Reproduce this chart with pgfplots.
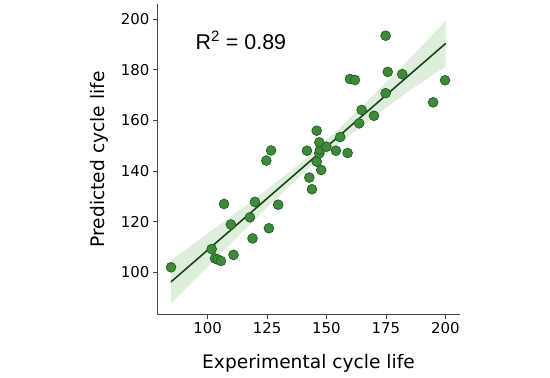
\documentclass[border=0pt]{standalone}
\usepackage{pgfplots}
\pgfplotsset{compat=1.18}
\usepackage{fontspec}
\setmainfont{DejaVu Sans}
\newfontfamily\rfont{Liberation Sans}
\usepgfplotslibrary{fillbetween}
\definecolor{ptfill}{HTML}{3E8A3A}
\definecolor{ptedge}{HTML}{245E22}
\definecolor{regline}{HTML}{17451A}
\definecolor{band}{HTML}{D9EAD6}
\definecolor{axgray}{HTML}{444444}
\begin{document}
\begin{tikzpicture}
\begin{axis}[
  scale only axis,
  width=303bp, height=310.7bp,
  at={(0,0)}, anchor=south west,
  xmin=78.7, xmax=206.2, ymin=83.3, ymax=205.9,
  axis x line*=bottom, axis y line*=left,
  x axis line style={-, axgray, line width=0.8pt},
  y axis line style={-, axgray, line width=0.8pt},
  xtick={100,125,150,175,200},
  ytick={100,120,140,160,180,200},
  tick align=outside,
  major tick length=4bp,
  tick style={axgray, line width=0.6pt},
  /pgf/number format/assume math mode=true,
  ticklabel style={font=\fontsize{15}{18}\selectfont},
  xlabel={Experimental cycle life},
  ylabel={Predicted cycle life},
  label style={font=\fontsize{18.7}{22}\selectfont},
  xlabel style={yshift=-14bp},
  ylabel style={yshift=6bp},
  clip=false,
]
\addplot[name path=upper, draw=none, forget plot] coordinates {
(84.6,104.75) (95,111.87) (105,118.74) (115,125.67) (125,132.72) (135,140.05)
(143.5,146.71) (155,156.53) (165,165.59) (175,174.86) (185,184.23) (200.2,199.46)};
\addplot[name path=lower, draw=none, forget plot] coordinates {
(84.6,87.77) (95,97.59) (105,107.00) (115,116.35) (125,125.58) (135,134.53)
(143.5,141.71) (155,150.61) (165,157.83) (175,164.84) (185,171.75) (200.2,181.26)};
\addplot[band, fill opacity=0.85, forget plot] fill between[of=upper and lower];
\addplot[regline, line width=1.6pt] coordinates {(84.6,96.26) (200.2,190.36)};
\addplot[only marks, mark=*, mark size=4.9bp,
  mark options={fill=ptfill, draw=ptedge, line width=0.7pt}] coordinates {
(84.6,102.0) (101.7,109.2) (103.1,105.5) (104.2,105.1) (105.6,104.5)
(106.9,127.0) (109.8,118.9) (110.9,106.9) (117.8,121.7) (119.9,127.8)
(118.9,113.4) (125.8,117.4) (129.7,126.7) (124.7,144.1) (126.7,148.1)
(142.8,137.4) (143.9,132.8) (141.8,148.0) (145.9,143.7) (147.8,140.4)
(147.0,147.0) (147.3,148.4) (147.0,151.3) (150.0,149.6) (154.0,148.0)
(158.9,147.1) (145.9,155.9) (155.8,153.4) (163.8,158.8) (164.8,164.1)
(170.0,161.8) (174.9,170.7) (194.9,167.1) (199.9,175.8) (175.8,179.1)
(181.9,178.2) (159.9,176.3) (162.0,175.9) (174.9,193.4)};
\node[font=\rfont\fontsize{21.5}{24}\selectfont, anchor=center]
  at (axis cs:114,191.5) {R\textsuperscript{2} = 0.89};
\end{axis}
\path[use as bounding box] (-157bp,-63.3bp) rectangle (393bp,314.7bp);
\end{tikzpicture}
\end{document}
